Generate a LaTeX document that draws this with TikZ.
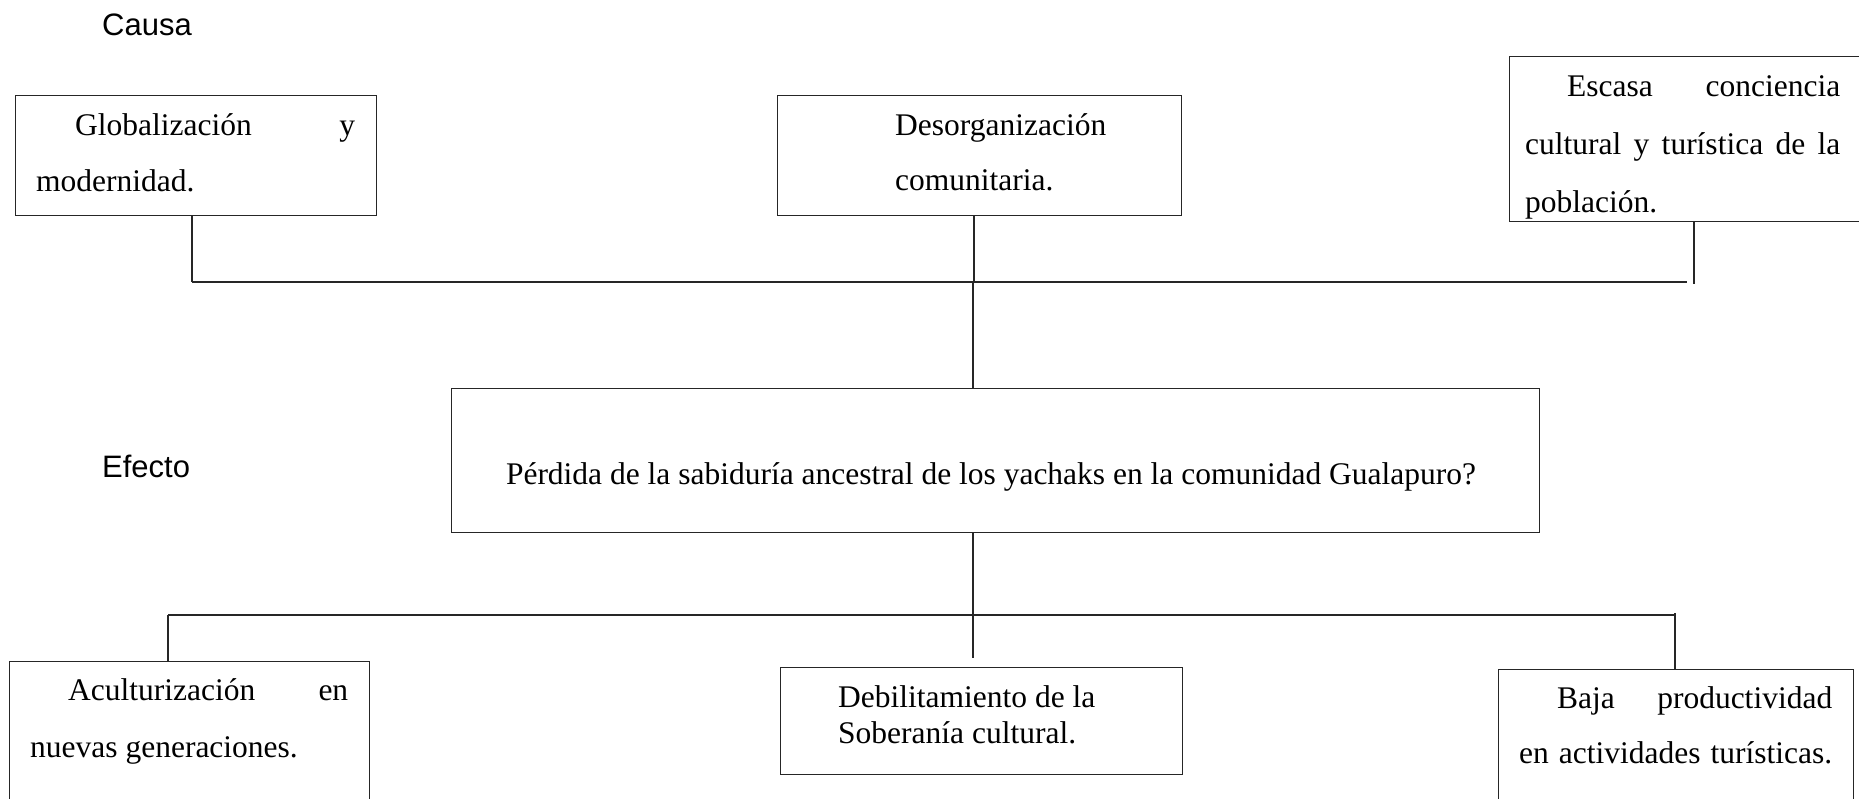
\documentclass[tikz,border=0pt]{standalone}
\usepackage{fontspec}
\setmainfont{Liberation Serif}
\newfontfamily\arialf{Liberation Sans}
\begin{document}
\begin{tikzpicture}[x=1pt,y=-1pt,
  box/.style={draw=black!85,line width=1.1pt,rectangle,inner sep=0pt,anchor=north west},
  conn/.style={draw=black!85,line width=1.1pt},
  txt/.style={inner sep=0pt,anchor=base west,font=\fontsize{31.5}{56}\selectfont},
  lab/.style={inner sep=0pt,anchor=base west,font=\arialf\fontsize{31}{36}\selectfont}]
\clip (0,0) rectangle (1859,799);
% labels
\node[lab] (causa) at (102,36) {Causa};
\node[lab] (efecto) at (102,477) {Efecto};
% cause boxes
\node[box,minimum width=361pt,minimum height=120pt] (g) at (15,95) {};
\node[txt] (gt) at (36,136) {\parbox[t]{319pt}{\fontsize{31.5}{56}\selectfont\hspace*{39pt}\makebox[280pt][l]{Globalización\hfill y}\\modernidad.}};
\node[box,minimum width=404pt,minimum height=120pt] (d) at (777,95) {};
\node[txt] (dt) at (895,136) {\parbox[t]{280pt}{\fontsize{31.5}{55}\selectfont Desorganización\\comunitaria.}};
\node[box,minimum width=370pt,minimum height=165pt] (e) at (1509,56) {};
\node[txt] (et) at (1525,97) {\parbox[t]{315pt}{\fontsize{31.5}{58}\selectfont\hspace*{42pt}\makebox[273pt][l]{Escasa\hfill conciencia}\\\makebox[315pt][s]{cultural y turística de la}\\población.}};
% central problem
\node[box,minimum width=1088pt,minimum height=144pt] (p) at (451,388) {};
\node[inner sep=0pt,anchor=base,font=\fontsize{31.5}{36}\selectfont] (pt) at (991,484) {Pérdida de la sabiduría ancestral de los yachaks en la comunidad Gualapuro?};
% effect boxes
\node[box,minimum width=360pt,minimum height=170pt] (a) at (9,661) {};
\node[txt] (at) at (30,700) {\parbox[t]{318pt}{\fontsize{31.5}{57}\selectfont\hspace*{38pt}\makebox[280pt][l]{Aculturización\hfill en}\\nuevas generaciones.}};
\node[box,minimum width=402pt,minimum height=107pt] (s) at (780,667) {};
\node[txt] (st) at (838,707) {\parbox[t]{320pt}{\fontsize{31.5}{36}\selectfont Debilitamiento de la\\Soberanía cultural.}};
\node[box,minimum width=355pt,minimum height=170pt] (b) at (1498,669) {};
\node[txt] (bt) at (1519,708) {\parbox[t]{313pt}{\fontsize{31.5}{55}\selectfont\hspace*{38pt}\makebox[275pt][l]{Baja\hfill productividad}\\\makebox[313pt][s]{en actividades turísticas.}}};
% connectors: causes
\coordinate (cL) at (192,282);
\coordinate (cM) at (974,282);
\coordinate (cE) at (1687,282);
\coordinate (cR) at (1694,284);
\draw[conn] (cL) -- (cE);
\draw[conn] (g.south -| cL) -- (cL);
\draw[conn] (d.south -| cM) -- (cM);
\draw[conn] ([xshift=-1pt]cM) -- ([xshift=-1pt]p.north -| cM);
\draw[conn] (e.south -| cR) -- (cR);
% connectors: effects
\coordinate (eL) at (168,615);
\coordinate (eM) at (973,615);
\coordinate (eR) at (1675,615);
\coordinate (eB) at (973,658);
\draw[conn] (eL) -- (eR);
\draw[conn] (p.south -| eM) -- (eB);
\draw[conn] (eL) -- (a.north -| eL);
\draw[conn] ([yshift=2pt]eR) -- (b.north -| eR);
\end{tikzpicture}
\end{document}
